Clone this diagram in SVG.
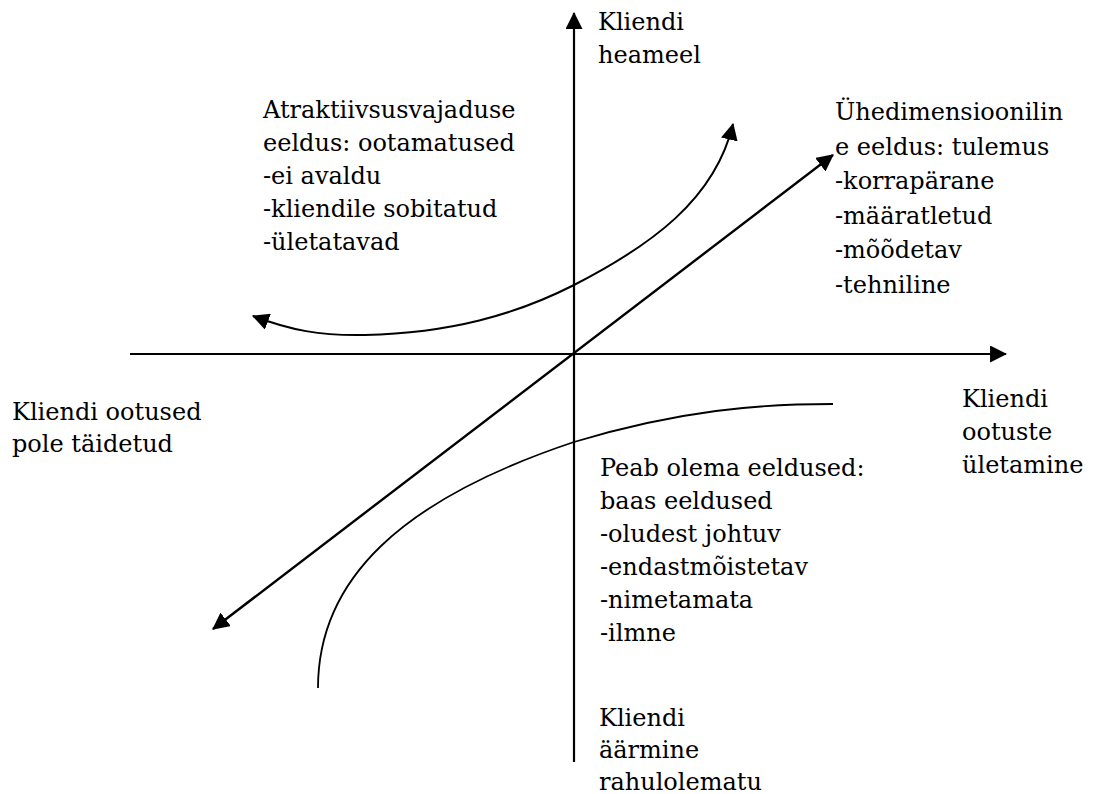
<svg xmlns="http://www.w3.org/2000/svg" width="1094" height="794" viewBox="0 0 1094 794">
<style>
.t text{font-size:24px;fill:#000}
.ln{fill:none;stroke:#000}
</style>
<defs>
<marker id="ah" viewBox="0 0 16 16" markerWidth="17" markerHeight="17" refX="15" refY="8" orient="auto-start-reverse" markerUnits="userSpaceOnUse">
<path d="M0,0 L16,8 L0,16 Z" fill="#000"/>
</marker>
</defs>
<rect width="1094" height="794" fill="#fff"/>
<g id="connectors">
<line class="ln" x1="574" y1="762" x2="574" y2="13" stroke-width="2.2" marker-end="url(#ah)"/>
<line class="ln" x1="130" y1="354" x2="1006" y2="354" stroke-width="2.2" marker-end="url(#ah)"/>
<line class="ln" x1="833" y1="155" x2="213" y2="629" stroke-width="2.4" marker-start="url(#ah)" marker-end="url(#ah)"/>
<path class="ln" d="M253,316 C290,330 320,336 365,335 C450,333 515,315 574,285 C650,246 715,200 733,124" stroke-width="2" marker-start="url(#ah)" marker-end="url(#ah)"/>
<path class="ln" d="M318,688 C318,580 400,500 574,442 C680,410 760,404 833,404" stroke-width="1.8"/>
</g>
<g class="t" font-family="'DejaVu Serif', serif">
<g id="top-label"><text x="598" y="30">Kliendi</text><text x="598" y="63">heameel</text></g>
<g id="attractive"><text x="263" y="118">Atraktiivsusvajaduse</text><text x="263" y="151">eeldus: ootamatused</text><text x="263" y="184">-ei avaldu</text><text x="263" y="217">-kliendile sobitatud</text><text x="263" y="250">-ületatavad</text></g>
<g id="onedim"><text x="835" y="120">Ühedimensioonilin</text><text x="835" y="155">e eeldus: tulemus</text><text x="835" y="189">-korrapärane</text><text x="835" y="224">-määratletud</text><text x="835" y="258">-mõõdetav</text><text x="835" y="293">-tehniline</text></g>
<g id="left-label"><text x="12" y="420">Kliendi ootused</text><text x="12" y="452">pole täidetud</text></g>
<g id="right-label"><text x="962" y="407">Kliendi</text><text x="962" y="440">ootuste</text><text x="962" y="473">ületamine</text></g>
<g id="mustbe"><text x="600" y="476">Peab olema eeldused:</text><text x="600" y="509">baas eeldused</text><text x="600" y="542">-oludest johtuv</text><text x="600" y="575">-endastmõistetav</text><text x="600" y="608">-nimetamata</text><text x="600" y="641">-ilmne</text></g>
<g id="bottom-label"><text x="599" y="726">Kliendi</text><text x="599" y="758">äärmine</text><text x="599" y="790">rahulolematu</text></g>
</g>
</svg>
